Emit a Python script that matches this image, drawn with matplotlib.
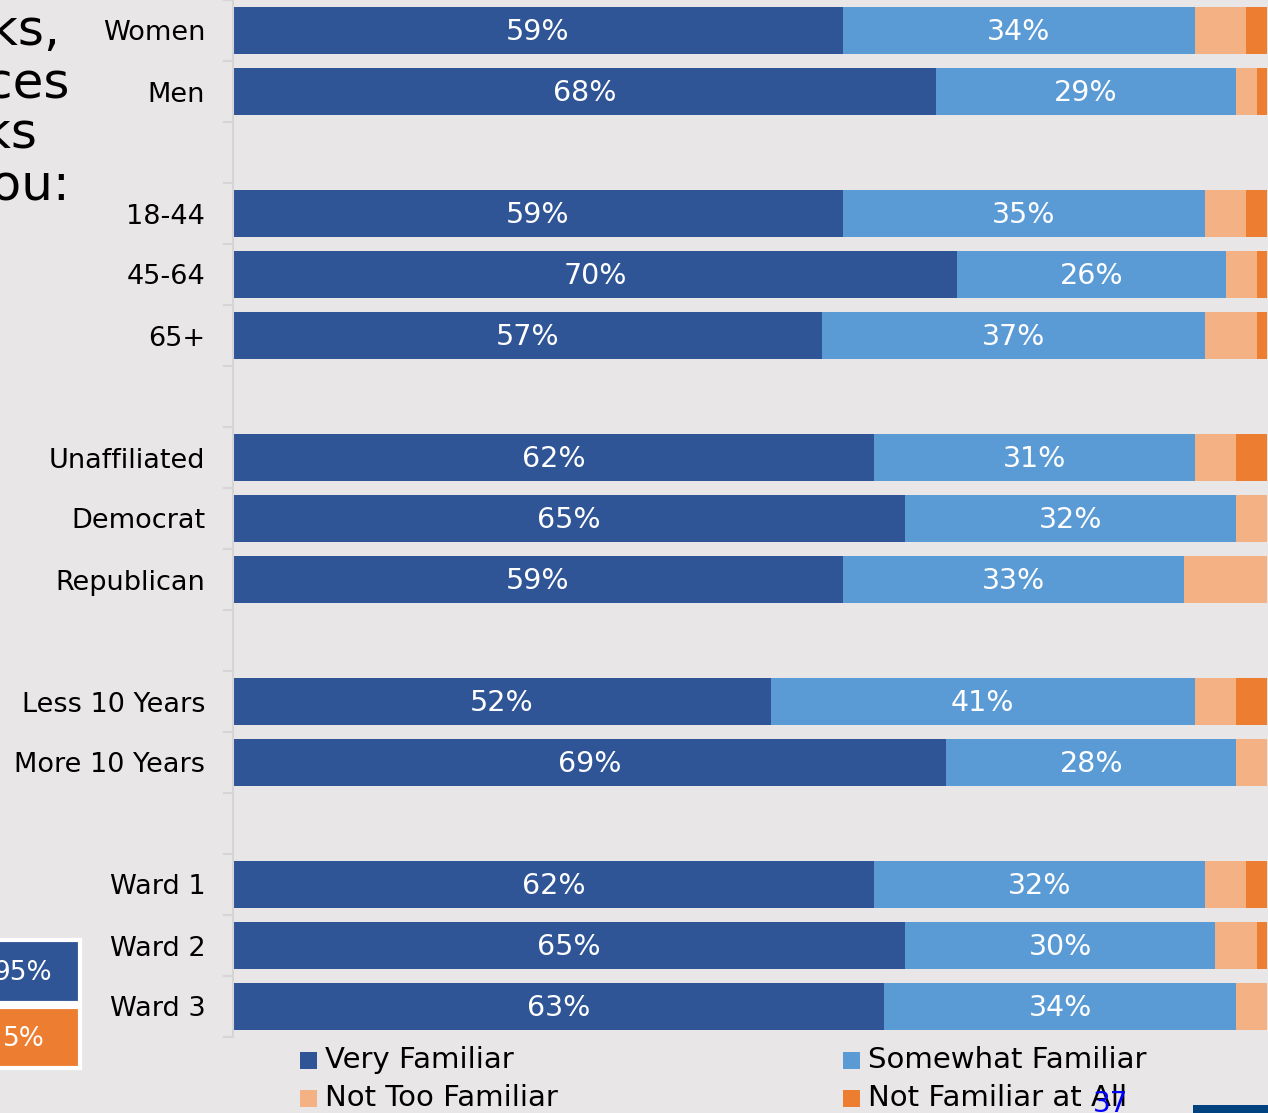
import matplotlib.pyplot as plt
from matplotlib.patches import Rectangle
import numpy as np

# categories, grouped (a blank row sits between groups)
groups = [
    ['Women', 'Men'],
    ['18-44', '45-64', '65+'],
    ['Unaffiliated', 'Democrat', 'Republican'],
    ['Less 10 Years', 'More 10 Years'],
    ['Ward 1', 'Ward 2', 'Ward 3'],
]

very_familiar = [59, 68, 59, 70, 57, 62, 65, 59, 52, 69, 62, 65, 63]
somewhat_familiar = [34, 29, 35, 26, 37, 31, 32, 33, 41, 28, 32, 30, 34]
not_too_familiar = [5, 2, 4, 3, 5, 4, 3, 8, 4, 3, 4, 4, 3]
not_at_all = [2, 1, 2, 1, 1, 3, 0, 0, 3, 0, 2, 1, 0]

series_names = ['Very Familiar', 'Somewhat Familiar', 'Not Too Familiar', 'Not Familiar at All']
colors = ['#2F5597', '#5B9BD5', '#F4B183', '#ED7D31']

title_bits = ['parks,', 'services', 'parks', 'you:']
side_values = ['95%', '5%']

W, H = 1268, 1113
BG = '#E9E6E7'

fig = plt.figure(figsize=(W / 100, H / 100), dpi=100)
fig.patch.set_facecolor(BG)

ax = fig.add_axes([233 / W, (H - 1037) / H, 1034 / W, 1037 / H])
ax.set_facecolor('none')

# row positions, with a gap row between groups
labels = []
positions = []
row = 0
for g in groups:
    for name in g:
        labels.append(name)
        positions.append(row)
        row += 1
    row += 1
n_rows = row - 1
positions = np.array(positions)

series = [very_familiar, somewhat_familiar, not_too_familiar, not_at_all]
left = np.zeros(len(labels))
for k, (vals, col) in enumerate(zip(series, colors)):
    vals = np.array(vals)
    ax.barh(positions, vals, left=left, height=0.77, color=col, edgecolor='none')
    if k < 2:
        for p, l, v in zip(positions, left, vals):
            ax.text(l + v / 2, p + 0.03, f'{v}%', ha='center', va='center',
                    color='white', fontsize=20.5)
    left = left + vals

ax.set_xlim(0, 100)
ax.set_ylim(n_rows - 0.5, -0.5)
ax.set_yticks(positions)
ax.set_yticklabels(labels, fontsize=19.5)
ax.set_yticks(np.arange(-0.5, n_rows, 1), minor=True)
ax.tick_params(axis='y', which='major', length=0, pad=20)
ax.tick_params(axis='y', which='minor', length=7, width=1.5, color='#D6D4D5')
ax.tick_params(axis='x', bottom=False, labelbottom=False)
for s in ['top', 'right', 'bottom']:
    ax.spines[s].set_visible(False)
ax.spines['left'].set_color('#D6D4D5')
ax.spines['left'].set_linewidth(1.5)

# clipped title from the slide
title_right = [60, 70, 37, 70]
title_base = [45, 97, 148, 200]
for t, xr, yb in zip(title_bits, title_right, title_base):
    fig.text(xr / W, 1 - yb / H, t, ha='right', va='baseline', fontsize=36, color='black')

# clipped side boxes
fig.patches.append(Rectangle((-40 / W, 1 - 1003 / H), 120 / W, 63 / H, transform=fig.transFigure,
                             facecolor='#2F5597', edgecolor='white', linewidth=3))
fig.patches.append(Rectangle((-40 / W, 1 - 1068 / H), 120 / W, 61 / H, transform=fig.transFigure,
                             facecolor='#ED7D31', edgecolor='white', linewidth=3))
fig.text(52 / W, 1 - 973 / H, side_values[0], ha='right', va='center', color='white', fontsize=19)
fig.text(45 / W, 1 - 1039 / H, side_values[1], ha='right', va='center', color='white', fontsize=19)

# legend, drawn by hand in two columns
leg_x = [300, 843, 300, 843]
leg_y = [1060, 1060, 1098, 1098]
for name, col, lx, ly in zip(series_names, colors, leg_x, leg_y):
    fig.patches.append(Rectangle((lx / W, 1 - (ly + 9) / H), 17 / W, 17 / H,
                                 transform=fig.transFigure, facecolor=col, edgecolor='none'))
    fig.text((lx + 25) / W, 1 - ly / H, name, ha='left', va='center', fontsize=21)

# page number and footer strip
fig.text(1093 / W, 1 - 1104 / H, '37', ha='left', va='center', color='#0000FF', fontsize=20)
fig.patches.append(Rectangle((1193 / W, 0), 75 / W, 8 / H, transform=fig.transFigure,
                             facecolor='#00427F', edgecolor='none'))

fig.savefig('out.png', dpi=100, facecolor=BG)
